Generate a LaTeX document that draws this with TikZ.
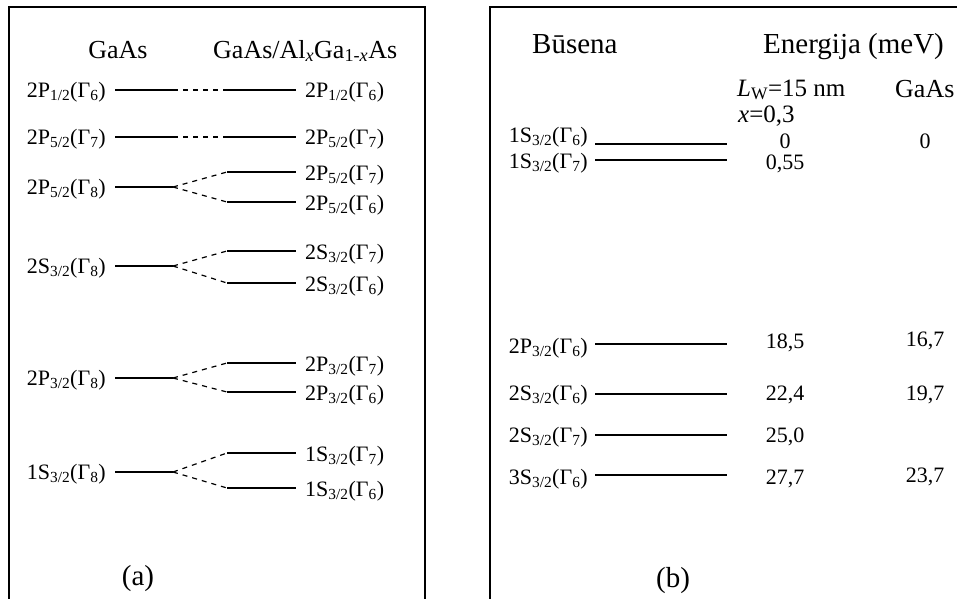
\documentclass[tikz,border=0pt]{standalone}
\usepackage{fontspec}
\setmainfont{Liberation Serif}
\usetikzlibrary{positioning}
\tikzset{
  frame/.style={line width=1.8pt},
  level/.style={line width=2.4pt},
  link/.style={line width=1.2pt, dash pattern=on 5pt off 5pt},
  lab/.style={inner sep=0pt, font=\fontsize{22}{26}\selectfont},
  head/.style={inner sep=0pt, font=\fontsize{26}{30}\selectfont},
  subhead/.style={inner sep=0pt, font=\fontsize{25}{28}\selectfont},
  bighead/.style={inner sep=0pt, font=\fontsize{29}{34}\selectfont}
}
\newcommand{\lvl}[3]{#1\textsubscript{#2/2}(Γ\textsubscript{#3})}

\begin{document}
\begin{tikzpicture}[x=1pt, y=-1pt]
    \useasboundingbox (0,0) rectangle (957,598);

    % Marcos de los paneles
    \draw[frame] (9,605) -- (9,7) -- (425,7) -- (425,605);
    \draw[frame] (490,605) -- (490,7) -- (965,7);

    % --- PANEL (a) ---
    \node[head, anchor=base] (hgaas) at (118,58) {GaAs};
    \node[head, anchor=base west] (hqw) at (213,58) {GaAs/Al\textsubscript{\textit{x}}Ga\textsubscript{1-\textit{x}}As};

    % Niveles sin desdoblamiento
    \foreach \i/\y/\st/\j/\g in {1/90/2P/1/6, 2/137/2P/5/7} {
        \coordinate (aw\i) at (115,\y); \coordinate (ae\i) at (173,\y);
        \coordinate (rw\i) at (227,\y); \coordinate (re\i) at (296,\y);
        \draw[level] (aw\i) -- (ae\i);
        \draw[level] (rw\i) -- (re\i);
        \draw[link] (ae\i) -- (rw\i);
        \node[lab, anchor=base east] (al\i) at (106,\y+7) {\lvl{\st}{\j}{\g}};
        \node[lab, anchor=base west] (rl\i) at (305,\y+7) {\lvl{\st}{\j}{\g}};
    }

    % Niveles desdoblados
    \foreach \i/\y/\yu/\yd/\st/\j in {3/187/172/202/2P/5, 4/266/251/283/2S/3, 5/378/363/392/2P/3, 6/472/453/488/1S/3} {
        \coordinate (aw\i) at (115,\y); \coordinate (ae\i) at (173,\y);
        \coordinate (uw\i) at (227,\yu); \coordinate (ue\i) at (296,\yu);
        \coordinate (dw\i) at (227,\yd); \coordinate (de\i) at (296,\yd);
        \draw[level] (aw\i) -- (ae\i);
        \draw[level] (uw\i) -- (ue\i);
        \draw[level] (dw\i) -- (de\i);
        \draw[link] (ae\i) -- (uw\i);
        \draw[link] (ae\i) -- (dw\i);
        \node[lab, anchor=base east] (al\i) at (106,\y+7) {\lvl{\st}{\j}{8}};
        \node[lab, anchor=base west] (ul\i) at (305,\yu+8) {\lvl{\st}{\j}{7}};
        \node[lab, anchor=base west] (dl\i) at (305,\yd+8) {\lvl{\st}{\j}{6}};
    }

    \node[bighead, anchor=base] (capa) at (138,585) {(a)};

    % --- PANEL (b) ---
    \node[bighead, anchor=base west] (hstate) at (532,53) {Būsena};
    \node[bighead, anchor=base west] (henergy) at (763,53) {Energija (meV)};
    \node[subhead, anchor=base west] (hwell) at (737,96) {\textit{L}\textsubscript{W}=15 nm};
    \node[subhead, anchor=base west] (hx) at (738,122) {\textit{x}=0,3};
    \node[head, anchor=base west] (hbulk) at (895,97) {GaAs};

    \foreach \i/\y/\b/\st/\g/\v/\vb in {
        1/144/142/1S/6/0/148, 2/160/168/1S/7/{0,55}/169,
        3/344/353/2P/6/{18,5}/348, 4/394/400/2S/6/{22,4}/400,
        5/435/442/2S/7/{25,0}/442, 6/475/484/3S/6/{27,7}/484
    } {
        \coordinate (bw\i) at (595,\y); \coordinate (be\i) at (727,\y);
        \draw[level] (bw\i) -- (be\i);
        \node[lab, anchor=base east] (bl\i) at (588,\b) {\lvl{\st}{3}{\g}};
        \node[lab, anchor=base] (bv\i) at (785,\vb) {\v};
    }

    % Columna GaAs
    \foreach \i/\v/\vb in {1/0/148, 3/{16,7}/346, 4/{19,7}/400, 6/{23,7}/482} {
        \node[lab, anchor=base] (bg\i) at (925,\vb) {\v};
    }

    \node[bighead, anchor=base] (capb) at (673,587) {(b)};

\end{tikzpicture}
\end{document}
